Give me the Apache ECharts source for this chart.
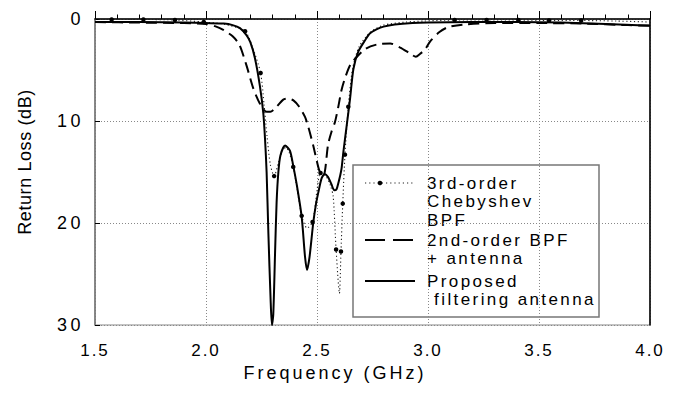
<!DOCTYPE html>
<html>
<head>
<meta charset="utf-8">
<title>Return Loss</title>
<script src="https://cdn.jsdelivr.net/npm/echarts@6/dist/echarts.min.js"></script>
<style>
  html, body { margin: 0; padding: 0; background: #fff; }
  #chart { width: 678px; height: 399px; }
</style>
</head>
<body>
<div id="chart"></div>
<script>
// Frequency axis ticks (GHz) and return-loss ticks (dB)
const freqTicks = [1.5, 2.0, 2.5, 3.0, 3.5, 4.0];
const lossTicks = [0, 10, 20, 30];

// 3rd-order Chebyshev BPF (dotted); chebyDot marks the sampled points drawn with a dot
const chebyFreq = [1.50, 1.575, 1.718, 1.86, 1.99, 2.08, 2.176, 2.21, 2.246, 2.262, 2.275, 2.29, 2.307, 2.325, 2.345, 2.36, 2.375, 2.393, 2.41, 2.431, 2.455, 2.48, 2.50, 2.516, 2.54, 2.56, 2.573, 2.586, 2.601, 2.608, 2.616, 2.626, 2.641, 2.66, 2.69, 2.74, 2.80, 2.90, 2.98, 3.12, 3.264, 3.407, 3.545, 3.69, 3.85, 4.00];
const chebyLoss = [0.05, 0.05, 0.05, 0.1, 0.3, 0.5, 1.2, 2.8, 5.3, 8.5, 11.5, 14.3, 15.4, 14.2, 12.8, 12.6, 13.1, 14.5, 16.6, 19.3, 20.5, 19.9, 16.8, 15.1, 15.4, 16.3, 17.4, 22.6, 26.9, 22.8, 18.1, 13.3, 8.6, 4.9, 2.7, 1.3, 0.6, 0.3, 0.2, 0.1, 0.1, 0.1, 0.15, 0.15, 0.2, 0.3];
const chebyDot = [0, 1, 1, 1, 1, 0, 1, 0, 1, 0, 0, 0, 1, 0, 0, 0, 0, 1, 0, 1, 0, 1, 0, 1, 0, 0, 0, 1, 0, 1, 1, 1, 1, 0, 0, 0, 0, 0, 0, 1, 1, 1, 1, 1, 0, 0];

// 2nd-order BPF + antenna (dashed)
const bpfFreq = [1.50, 1.70, 1.90, 2.00, 2.04, 2.08, 2.12, 2.15, 2.183, 2.213, 2.243, 2.273, 2.29, 2.318, 2.348, 2.37, 2.395, 2.42, 2.446, 2.461, 2.483, 2.50, 2.513, 2.53, 2.55, 2.566, 2.581, 2.596, 2.61, 2.626, 2.65, 2.68, 2.72, 2.77, 2.83, 2.875, 2.92, 2.945, 2.965, 2.986, 3.01, 3.05, 3.09, 3.16, 3.30, 3.50, 3.70, 3.90, 4.00];
const bpfLoss = [0.3, 0.35, 0.4, 0.5, 0.7, 1.1, 1.7, 2.5, 4.6, 6.8, 8.3, 9.1, 9.1, 8.6, 7.9, 7.8, 8.0, 8.6, 9.6, 10.6, 12.4, 14.0, 15.0, 15.3, 12.3, 11.0, 10.1, 8.6, 7.0, 5.8, 4.5, 3.7, 2.9, 2.5, 2.4, 2.8, 3.4, 3.7, 3.4, 3.0, 2.2, 1.3, 0.8, 0.55, 0.4, 0.4, 0.45, 0.6, 0.65];

// Proposed filtering antenna (solid)
const antFreq = [1.50, 1.70, 1.90, 2.00, 2.08, 2.12, 2.153, 2.183, 2.20, 2.22, 2.243, 2.258, 2.266, 2.273, 2.281, 2.291, 2.297, 2.303, 2.311, 2.318, 2.326, 2.335, 2.356, 2.378, 2.393, 2.41, 2.431, 2.446, 2.455, 2.466, 2.483, 2.495, 2.506, 2.521, 2.535, 2.55, 2.565, 2.578, 2.588, 2.596, 2.605, 2.611, 2.619, 2.634, 2.649, 2.664, 2.686, 2.716, 2.739, 2.77, 2.80, 2.85, 2.93, 3.00, 3.20, 3.40, 3.60, 3.80, 4.00];
const antLoss = [0.3, 0.3, 0.35, 0.4, 0.45, 0.6, 0.9, 1.6, 2.3, 3.8, 6.6, 9.2, 11.8, 15.0, 21.0, 27.5, 30.0, 29.0, 23.0, 18.0, 15.0, 13.4, 12.4, 12.9, 14.4, 16.4, 19.4, 23.3, 24.6, 23.4, 20.0, 18.2, 17.0, 15.6, 15.2, 15.5, 16.2, 16.8, 16.7, 16.1, 15.3, 14.6, 13.0, 10.4, 7.8, 4.9, 3.2, 2.1, 1.4, 1.0, 0.75, 0.55, 0.4, 0.35, 0.3, 0.3, 0.35, 0.5, 0.65];

// Series names and the lines they are written on in the key
const seriesNames = ['3rd-order Chebyshev BPF', '2nd-order BPF + antenna', 'Proposed filtering antenna'];
const legendLines = [['3rd-order', 'Chebyshev', 'BPF'], ['2nd-order BPF', '+ antenna'], ['Proposed', ' filtering antenna']];
const xTitle = 'Frequency (GHz)';
const yTitle = 'Return Loss (dB)';

const FONT = "'Liberation Sans', Arial, Helvetica, sans-serif";

function pairs(xs, ys) { return xs.map((x, i) => [x, ys[i]]); }

const chebyData = chebyFreq.map((f, i) => ({
  value: [f, chebyLoss[i]],
  symbol: chebyDot[i] ? 'circle' : 'none'
}));

// key box
const key = { x: 353, y: 165, w: 246, h: 152, iconX: 365, iconW: 50, textX: 427, rows: [183, 240, 281], lh: 18.8 };
const keyChildren = [
  { type: 'rect', shape: { x: key.x, y: key.y, width: key.w, height: key.h },
    style: { fill: '#fff', stroke: '#777', lineWidth: 1.5 } },
  // dotted icon with dot
  { type: 'line', shape: { x1: key.iconX, y1: key.rows[0], x2: key.iconX + key.iconW, y2: key.rows[0] },
    style: { stroke: '#222', lineWidth: 1.2, lineDash: [1.2, 3] } },
  { type: 'circle', shape: { cx: key.iconX + 15, cy: key.rows[0], r: 2.3 }, style: { fill: '#000' } },
  // dashed icon
  { type: 'line', shape: { x1: key.iconX, y1: key.rows[1], x2: key.iconX + key.iconW, y2: key.rows[1] },
    style: { stroke: '#000', lineWidth: 2, lineDash: [20, 8] } },
  // solid icon
  { type: 'line', shape: { x1: key.iconX, y1: key.rows[2], x2: key.iconX + key.iconW, y2: key.rows[2] },
    style: { stroke: '#000', lineWidth: 2 } }
];
legendLines.forEach((lines, k) => {
  lines.forEach((t, j) => {
    keyChildren.push({
      type: 'text', x: key.textX, y: key.rows[k] + j * key.lh,
      style: { text: t, fill: '#000', font: '17px ' + FONT, textVerticalAlign: 'middle', textAlign: 'left' }
    });
  });
});

const chart = echarts.init(document.getElementById('chart'), null, { renderer: 'svg' });

const option = {
  animation: false,
  backgroundColor: '#fff',
  grid: { left: 95, right: 28, top: 19, bottom: 74, show: true, borderColor: '#888', borderWidth: 1.2,
          containLabel: false, outerBoundsMode: 'none' },
  xAxis: {
    type: 'value', min: freqTicks[0], max: freqTicks[freqTicks.length - 1], interval: 0.5,
    name: xTitle, nameLocation: 'middle', nameGap: 39, nameMoveOverlap: false,
    nameTextStyle: { fontFamily: FONT, fontSize: 18, color: '#000', padding: [0, 75, 0, 0] },
    axisLine: { show: true, lineStyle: { color: '#000', width: 1.5 } },
    axisTick: { show: true, inside: true, length: 8, lineStyle: { color: '#000', width: 1 } },
    minorTick: { show: true, splitNumber: 5, length: 4.5, lineStyle: { color: '#000', width: 1 } },
    axisLabel: { margin: 17, fontFamily: FONT, fontSize: 17, color: '#000', formatter: v => v.toFixed(1) },
    splitLine: { show: true, lineStyle: { color: '#888', width: 1, type: [1, 2] } }
  },
  yAxis: [{
    type: 'value', inverse: true, min: lossTicks[0], max: lossTicks[lossTicks.length - 1], interval: 10,
    name: yTitle, nameLocation: 'middle', nameGap: 61, nameRotate: 90, nameMoveOverlap: false,
    nameTextStyle: { fontFamily: FONT, fontSize: 18, color: '#000', padding: [0, 0, 0, 20] },
    axisLine: { show: true, lineStyle: { color: '#777', width: 1.5 } },
    axisTick: { show: true, inside: true, length: 5, lineStyle: { color: '#000', width: 1 } },
    axisLabel: { margin: 11, fontFamily: FONT, fontSize: 18, color: '#000' },
    splitLine: { show: true, lineStyle: { color: '#888', width: 1, type: [1, 2] } }
  }, {
    type: 'value', inverse: true, position: 'right', min: 0, max: 30,
    axisLine: { show: true, lineStyle: { color: '#000', width: 1.5 } },
    axisTick: { show: false }, axisLabel: { show: false }, splitLine: { show: false }
  }],
  series: [
    {
      name: seriesNames[0], type: 'line', data: chebyData, smooth: 0.25,
      showSymbol: true, showAllSymbol: true, symbol: 'circle', symbolSize: 4.5,
      itemStyle: { color: '#000' },
      lineStyle: { color: '#222', width: 1.1, type: [1.2, 2.6] }, z: 2
    },
    {
      name: seriesNames[1], type: 'line', data: pairs(bpfFreq, bpfLoss), smooth: 0.25, showSymbol: false,
      lineStyle: { color: '#000', width: 2, type: [11, 6] }, z: 3
    },
    {
      name: seriesNames[2], type: 'line', data: pairs(antFreq, antLoss), smooth: 0.25, showSymbol: false,
      lineStyle: { color: '#000', width: 2 }, z: 4
    }
  ],
  graphic: [{ type: 'group', z: 100, children: keyChildren }]
};

chart.setOption(option);

// widen character spacing of the drawn texts
function spaceText() {
  const spacing = {};
  spacing[xTitle] = 3;
  spacing[yTitle] = 0.6;
  document.querySelectorAll('#chart svg text').forEach(el => {
    const t = el.textContent.trim();
    let s = 2.4;
    if (spacing[t] !== undefined) s = spacing[t];
    else if (/^[0-9]+$/.test(t)) s = 3.5;
    else if (/^[0-9.]+$/.test(t)) s = 2;
    el.setAttribute('letter-spacing', s + 'px');
  });
}
spaceText();
chart.on('finished', spaceText);
</script>
</body>
</html>
